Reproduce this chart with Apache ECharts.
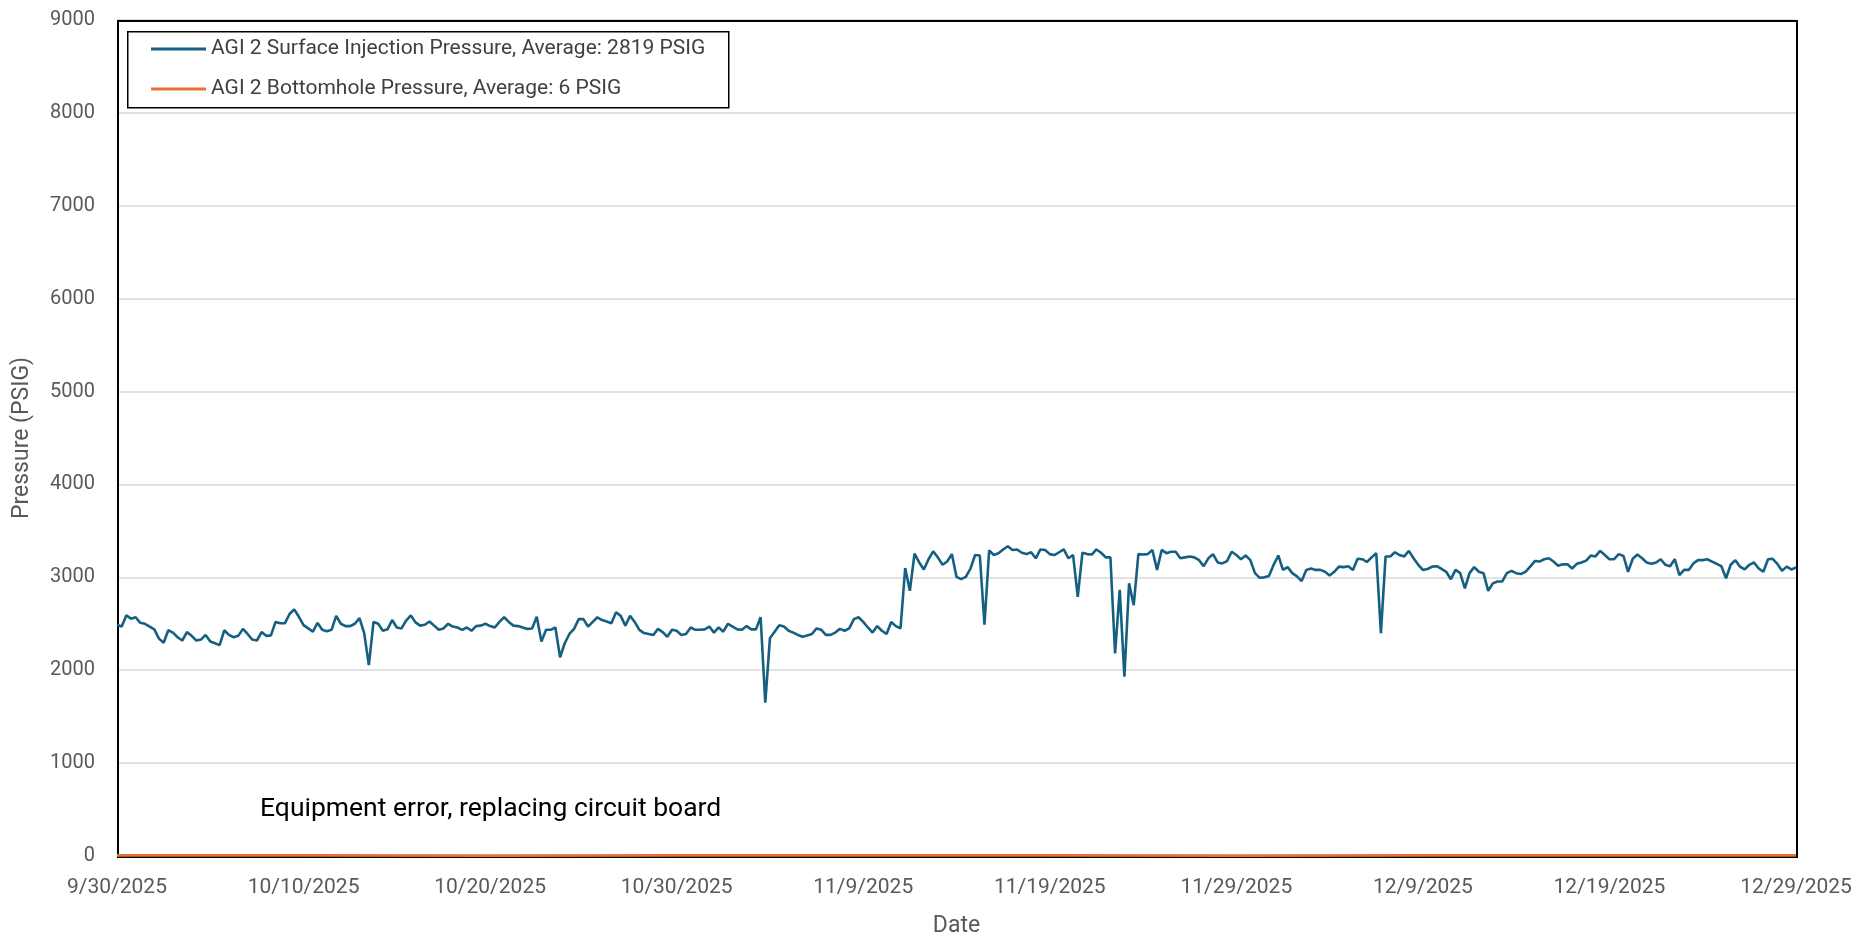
<!DOCTYPE html>
<html>
<head>
<meta charset="utf-8">
<title>AGI 2 Pressure</title>
<script src="https://cdn.jsdelivr.net/npm/echarts@6/dist/echarts.min.js"></script>
<style>
  html, body { margin: 0; padding: 0; background: #fff; }
  #chart { width: 1872px; height: 939px; }
</style>
</head>
<body>
<div id="chart"></div>
<script>
// x axis runs in days after 9/30/2025, one surface reading every 6 hours
const startDate = new Date(2025, 8, 30);
const sampleStep = 0.25;
const xTicks = [0, 10, 20, 30, 40, 50, 60, 70, 80, 90];
const yTicks = [0, 1000, 2000, 3000, 4000, 5000, 6000, 7000, 8000, 9000];

const surfaceName = "AGI 2 Surface Injection Pressure, Average: 2819 PSIG";
const bottomName = "AGI 2 Bottomhole Pressure, Average: 6 PSIG";

const surfacePressure = [
  2490, 2470, 2590, 2555, 2570, 2510, 2500, 2470, 2440, 2340,
  2295, 2430, 2405, 2355, 2320, 2410, 2370, 2320, 2330, 2380,
  2310, 2290, 2270, 2430, 2380, 2355, 2370, 2445, 2390, 2330,
  2320, 2410, 2370, 2375, 2520, 2505, 2505, 2605, 2655, 2575,
  2485, 2450, 2415, 2510, 2435, 2420, 2435, 2585, 2500, 2475,
  2475, 2500, 2560, 2400, 2055, 2520, 2500, 2425, 2440, 2540,
  2460, 2450, 2535, 2590, 2515, 2480, 2490, 2525, 2480, 2435,
  2450, 2500, 2470, 2460, 2435, 2460, 2425, 2475, 2480, 2500,
  2475, 2460, 2520, 2570, 2520, 2480, 2475, 2460, 2445, 2450,
  2575, 2310, 2435, 2435, 2460, 2140, 2290, 2390, 2445, 2550,
  2550, 2470, 2520, 2570, 2540, 2525, 2505, 2625, 2585, 2480,
  2585, 2520, 2435, 2400, 2390, 2380, 2445, 2410, 2360, 2435,
  2425, 2380, 2390, 2460, 2435, 2435, 2440, 2470, 2405, 2460,
  2415, 2500, 2470, 2440, 2435, 2475, 2440, 2440, 2570, 1650,
  2345, 2415, 2485, 2470, 2425, 2405, 2380, 2360, 2375, 2390,
  2450, 2435, 2380, 2380, 2405, 2445, 2425, 2450, 2550, 2570,
  2520, 2460, 2405, 2475, 2425, 2390, 2520, 2475, 2450, 3100,
  2855, 3255, 3160, 3085, 3195, 3280, 3215, 3135, 3170, 3250,
  3005, 2980, 3005, 3095, 3240, 3235, 2490, 3290, 3240, 3260,
  3300, 3335, 3295, 3300, 3265, 3250, 3270, 3205, 3300, 3295,
  3250, 3240, 3270, 3300, 3205, 3240, 2790, 3265, 3250, 3245,
  3300, 3265, 3215, 3215, 2180, 2865, 1930, 2935, 2700, 3250,
  3245, 3250, 3295, 3080, 3295, 3260, 3275, 3275, 3205, 3215,
  3225, 3215, 3185, 3120, 3205, 3250, 3160, 3150, 3175, 3275,
  3240, 3195, 3235, 3185, 3045, 2995, 3000, 3015, 3135, 3235,
  3080, 3110, 3045, 3010, 2960, 3080, 3095, 3080, 3080, 3060,
  3020, 3060, 3115, 3110, 3120, 3080, 3200, 3195, 3165, 3215,
  3260, 2400, 3225, 3225, 3270, 3240, 3225, 3285, 3205, 3135,
  3080, 3090, 3115, 3120, 3090, 3060, 2980, 3080, 3045, 2880,
  3045, 3110, 3060, 3045, 2855, 2935, 2955, 2955, 3045, 3070,
  3045, 3035, 3060, 3115, 3175, 3170, 3195, 3205, 3170, 3125,
  3140, 3140, 3095, 3145, 3160, 3180, 3235, 3225, 3285, 3240,
  3195, 3195, 3250, 3230, 3060, 3200, 3245, 3205, 3160, 3145,
  3160, 3195, 3135, 3120, 3195, 3025, 3080, 3080, 3150, 3185,
  3185, 3195, 3170, 3145, 3120, 2990, 3135, 3185, 3115, 3085,
  3135, 3160, 3095, 3060, 3195, 3200, 3145, 3070, 3115, 3085,
  3105
];

// bottomhole gauge (equipment error) - readings near zero
const bottomDays = [0, 10, 20, 30, 40, 50, 60, 70, 80, 90];
const bottomPressure = [6, 6, 5, 7, 6, 6, 5, 6, 7, 6];

const fmtDate = (v) => {
  const d = new Date(startDate.getTime());
  d.setDate(d.getDate() + Math.round(v));
  return (d.getMonth() + 1) + "/" + d.getDate() + "/" + d.getFullYear();
};

const chart = echarts.init(document.getElementById("chart"));

const W = 1872, H = 939;
const gridLeft = 117, gridRight = 76, gridTop = 20, gridBottom = 83;
const font = "Roboto, 'Noto Sans', sans-serif";

const option = {
  animation: false,
  backgroundColor: "#fff",
  textStyle: { fontFamily: font },
  grid: {
    left: gridLeft,
    right: gridRight,
    top: gridTop,
    bottom: gridBottom,
    outerBoundsMode: "none",
    containLabel: false,
  },
  legend: {
    orient: "vertical",
    left: 151,
    top: 38,
    padding: 0,
    itemGap: 18,
    itemWidth: 55,
    itemHeight: 3,
    icon: "rect",
    textStyle: { color: "#404040", fontSize: 21, lineHeight: 22 },
    data: [surfaceName, bottomName],
  },
  xAxis: {
    type: "value",
    min: xTicks[0],
    max: xTicks[xTicks.length - 1],
    interval: 10,
    name: "Date",
    nameLocation: "middle",
    nameGap: 59,
    nameTextStyle: { color: "#595959", fontSize: 23 },
    axisLine: { show: false },
    axisTick: { show: false },
    splitLine: { show: false },
    axisLabel: {
      color: "#595959",
      fontSize: 21,
      margin: 21,
      formatter: fmtDate,
    },
  },
  yAxis: {
    type: "value",
    min: yTicks[0],
    max: yTicks[yTicks.length - 1],
    interval: 1000,
    name: "Pressure (PSIG)",
    nameLocation: "middle",
    nameGap: 83,
    nameTextStyle: { color: "#595959", fontSize: 23 },
    axisLine: { show: false },
    axisTick: { show: false },
    axisLabel: {
      color: "#595959",
      fontSize: 20,
      margin: 22,
      formatter: (v) => String(v),
    },
    splitLine: { lineStyle: { color: "#D9D9D9", width: 1.5 } },
  },
  graphic: [
    {
      // plot frame, drawn over the grid lines
      type: "rect",
      left: gridLeft,
      top: gridTop,
      shape: { width: W - gridLeft - gridRight, height: H - gridTop - gridBottom },
      style: { fill: "transparent", stroke: "#000", lineWidth: 2 },
      z: 1,
    },
    {
      // legend frame
      type: "rect",
      left: 127,
      top: 31,
      shape: { width: 601, height: 76 },
      style: { fill: "#fff", stroke: "#000", lineWidth: 1.5 },
      z: 2,
    },
    {
      type: "text",
      left: 260,
      top: 796,
      style: {
        text: "Equipment error, replacing circuit board",
        fill: "#000",
        fontSize: 26.5,
        fontFamily: font,
      },
      z: 5,
    },
  ],
  series: [
    {
      name: surfaceName,
      type: "line",
      symbol: "none",
      data: surfacePressure.map((v, i) => [i * sampleStep, v]),
      lineStyle: { color: "#156082", width: 2.6 },
      itemStyle: { color: "#156082" },
      z: 3,
    },
    {
      name: bottomName,
      type: "line",
      symbol: "none",
      data: bottomDays.map((d, i) => [d, bottomPressure[i]]),
      lineStyle: { color: "#E97132", width: 2.8 },
      itemStyle: { color: "#E97132" },
      z: 3,
    },
  ],
};

chart.setOption(option);
window.addEventListener("resize", () => chart.resize());
</script>
</body>
</html>
